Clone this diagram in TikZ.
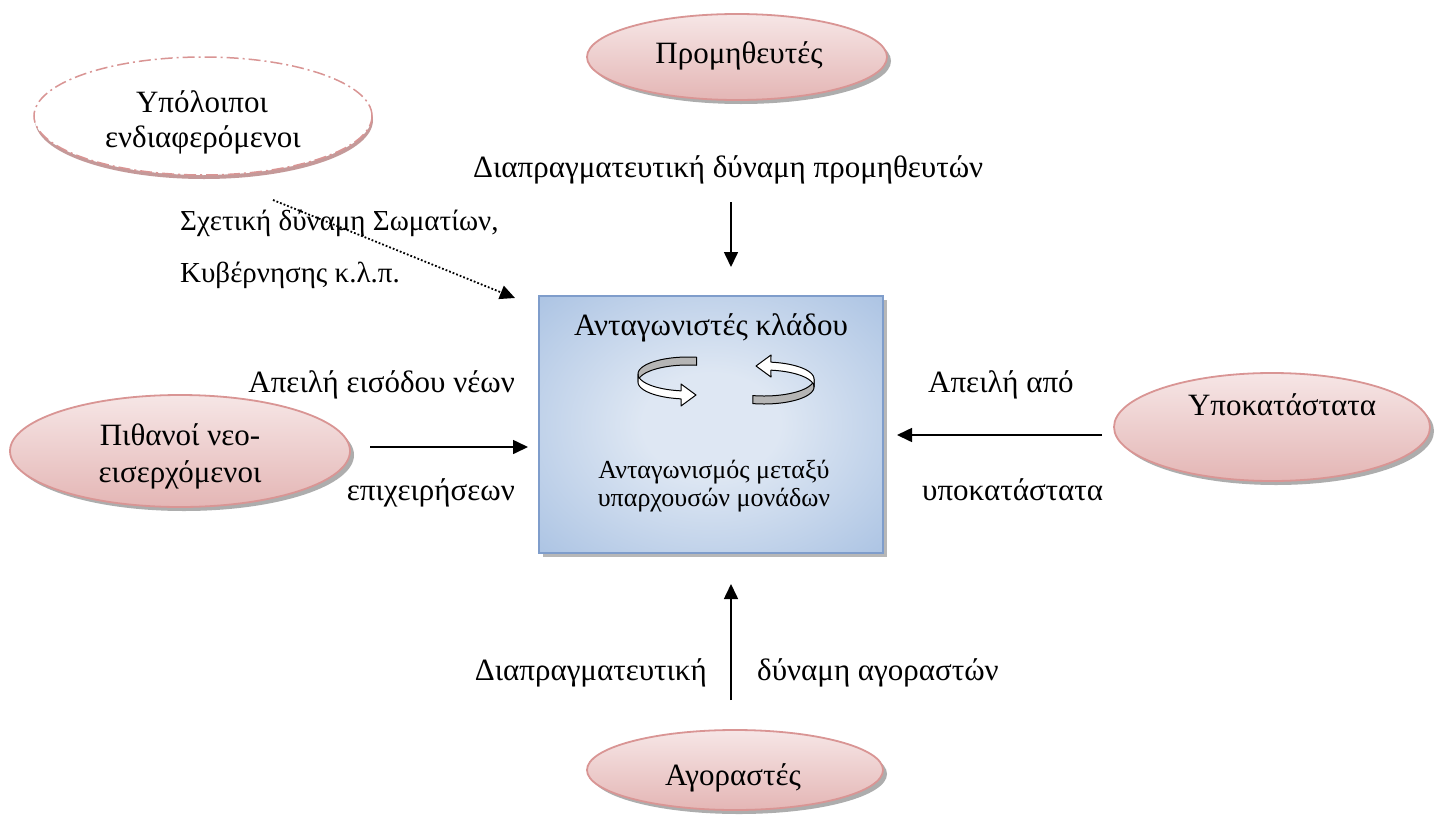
\documentclass[tikz,border=0pt]{standalone}
\usepackage{fontspec}
\setmainfont{Liberation Serif}
\usetikzlibrary{shapes.geometric,arrows.meta,shadows}

\definecolor{pinkTop}{HTML}{F6E6E6}
\definecolor{pinkBot}{HTML}{E4B6B5}
\definecolor{pinkLine}{HTML}{D99594}
\definecolor{boxInner}{HTML}{DEE7F3}
\definecolor{boxMid}{HTML}{ABC3E3}
\definecolor{boxOuter}{HTML}{89A7D5}
\definecolor{boxLine}{HTML}{7F9DCB}
\definecolor{ribbonGray}{HTML}{B5B5B5}

% soft blue fill of the central box: light middle, deeper edges and corners
\pgfdeclareradialshading{boxshade}{\pgfpoint{0bp}{0bp}}{%
  color(0bp)=(boxInner); color(10bp)=(boxInner);
  color(36bp)=(boxMid); color(50bp)=(boxOuter)}

\newcommand\lblfont{\fontsize{31}{37}\selectfont}
\newcommand\notefont{\fontsize{29}{35}\selectfont}
\newcommand\smallfont{\fontsize{26}{31}\selectfont}

\begin{document}
\begin{tikzpicture}[x=1pt,y=-1pt,
  lbl/.style={inner sep=0pt, font=\lblfont},
  notelbl/.style={inner sep=0pt, font=\notefont},
  boxlbl/.style={inner sep=0pt, font=\smallfont},
  pinkell/.style={ellipse, inner sep=0pt, draw=pinkLine, line width=1.8pt,
    top color=pinkTop, bottom color=pinkBot,
    drop shadow={shadow xshift=4pt, shadow yshift=-4pt, fill=black!40, opacity=0.8}},
  plainell/.style={ellipse, inner sep=0pt, draw=pinkLine, line width=1.5pt, fill=white,
    dash pattern=on 12pt off 4pt on 2pt off 4pt,
    drop shadow={shadow xshift=1pt, shadow yshift=-4pt, fill=pinkLine!70!gray, opacity=0.9}},
  force/.style={line width=1.6pt, -{Triangle[length=15pt,width=14pt]}},
  weakforce/.style={line width=1.8pt, dotted, -{Triangle[length=15pt,width=14pt]}},
  ribbon/.style={draw=black, line width=1pt, line join=round}
]
\useasboundingbox (0,0) rectangle (1440,814);
\fill[white] (0,0) rectangle (1440,814);

% --- the five outer parties -------------------------------------------
\node[pinkell, minimum width=300pt, minimum height=86pt] (sup) at (737,57) {};
\node[plainell, minimum width=338pt, minimum height=118pt] (oth) at (203,116) {};
\node[pinkell, minimum width=340pt, minimum height=112pt] (ent) at (180,451) {};
\node[pinkell, minimum width=316pt, minimum height=108pt] (sub) at (1272,427) {};
\node[pinkell, minimum width=296pt, minimum height=80pt] (buy) at (735,770) {};

\node[lbl, anchor=base] (supT) at (739,63) {Προμηθευτές};
\node[lbl, anchor=base] (othT1) at (202,112) {Υπόλοιποι};
\node[lbl, anchor=base] (othT2) at (203,147) {ενδιαφερόμενοι};
\node[lbl, anchor=base] (entT1) at (180,445) {Πιθανοί νεο-};
\node[lbl, anchor=base] (entT2) at (180,482) {εισερχόμενοι};
\node[lbl, anchor=base] (subT) at (1282,415) {Υποκατάστατα};
\node[lbl, anchor=base] (buyT) at (733,785) {Αγοραστές};

% --- central box: rivalry among existing firms --------------------------
\node[rectangle, minimum width=344pt, minimum height=257pt, inner sep=0pt,
  draw=boxLine, line width=1.5pt, shading=boxshade,
  drop shadow={shadow xshift=4pt, shadow yshift=-4pt, fill=black!35, opacity=0.8}]
  (rival) at (711,424.5) {};
\node[lbl, anchor=base] (rivalT) at (711,335) {Ανταγωνιστές κλάδου};
\node[boxlbl, anchor=base] (rivalS1) at (714,478) {Ανταγωνισμός μεταξύ};
\node[boxlbl, anchor=base] (rivalS2) at (714,506) {υπαρχουσών μονάδων};

% circular ribbon arrow, left: grey back strip, white front strip
\filldraw[ribbon, fill=ribbonGray]
  plot[domain=80:180, samples=40, variable=\t] ({688+50*cos(\t)},{374-17*sin(\t)})
  -- plot[domain=180:80, samples=40, variable=\t] ({688+50*cos(\t)},{382-17*sin(\t)})
  -- cycle;
\filldraw[ribbon, fill=white]
  plot[domain=180:262, samples=40, variable=\t] ({688+50*cos(\t)},{374-17*sin(\t)})
  -- (681,384) -- (696,395) -- (681,406)
  -- plot[domain=262:180, samples=40, variable=\t] ({688+50*cos(\t)},{382-17*sin(\t)})
  -- cycle;
% circular ribbon arrow, right
\filldraw[ribbon, fill=ribbonGray]
  plot[domain=257:360, samples=40, variable=\t] ({764+50*cos(\t)},{379-17*sin(\t)})
  -- plot[domain=360:257, samples=40, variable=\t] ({764+50*cos(\t)},{387-17*sin(\t)})
  -- cycle;
\filldraw[ribbon, fill=white]
  plot[domain=0:82, samples=40, variable=\t] ({764+50*cos(\t)},{379-17*sin(\t)})
  -- (771,355) -- (756,366) -- (771,377)
  -- plot[domain=82:0, samples=40, variable=\t] ({764+50*cos(\t)},{387-17*sin(\t)})
  -- cycle;

% --- forces ------------------------------------------------------------
\coordinate (supA) at (731,202);
\coordinate (supB) at (731,267);
\coordinate (entA) at (370,447);
\coordinate (entB) at (528,447);
\coordinate (subA) at (1102,435);
\coordinate (subB) at (897,435);
\coordinate (buyA) at (731,700);
\coordinate (buyB) at (731,584);
\coordinate (othA) at (273,200);
\coordinate (othB) at (515,298);

\draw[force] (supA) -- (supB);
\draw[force] (entA) -- (entB);
\draw[force] (subA) -- (subB);
\draw[force] (buyA) -- (buyB);
\draw[weakforce] (othA) -- (othB);

\node[lbl, anchor=base west] (supL) at (473,177) {Διαπραγματευτική δύναμη προμηθευτών};
\node[notelbl, anchor=base west] (othL1) at (180,230) {Σχετική δύναμη Σωματίων,};
\node[notelbl, anchor=base west] (othL2) at (180,282) {Κυβέρνησης κ.λ.π.};
\node[lbl, anchor=base east] (entL1) at (515,392) {Απειλή εισόδου νέων};
\node[lbl, anchor=base east] (entL2) at (515,500) {επιχειρήσεων};
\node[lbl, anchor=base west] (subL1) at (928,392) {Απειλή από};
\node[lbl, anchor=base west] (subL2) at (922,500) {υποκατάστατα};
\node[lbl, anchor=base east] (buyL1) at (707,680) {Διαπραγματευτική};
\node[lbl, anchor=base west] (buyL2) at (757,680) {δύναμη αγοραστών};
\end{tikzpicture}
\end{document}
